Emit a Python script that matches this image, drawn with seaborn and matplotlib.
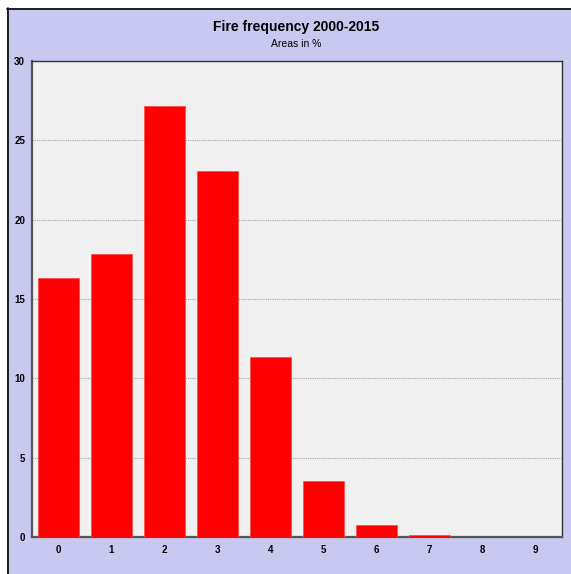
import pandas as pd
import matplotlib
matplotlib.use("Agg")
import matplotlib.pyplot as plt
import seaborn as sns
from matplotlib.patches import Rectangle
from matplotlib.lines import Line2D

# Fire frequency classes (number of fires 2000-2015) and share of area in %
classes = ["0", "1", "2", "3", "4", "5", "6", "7", "8", "9"]
area_pct = [16.3, 17.83, 27.15, 23.08, 11.32, 3.53, 0.74, 0.13, 0.0, 0.0]
yticks = [0, 5, 10, 15, 20, 25, 30]

df = pd.DataFrame({"fires": classes, "area": area_pct})

sns.set_style("white")
plt.rcParams["font.family"] = ["Liberation Sans", "DejaVu Sans"]

W, H = 571, 574
fig = plt.figure(figsize=(W / 100, H / 100), dpi=100, facecolor="white")

# lavender panel with black top/left edge
panel = "#c8c8f0"
fig.patches.append(Rectangle((7 / W, 0), 1 - 7 / W, 1 - 8 / H, transform=fig.transFigure,
                             facecolor=panel, edgecolor="none", zorder=-5))
fig.lines.append(Line2D([7 / W, 1], [1 - 8.5 / H, 1 - 8.5 / H], transform=fig.transFigure,
                        color="black", lw=1.2, zorder=-4))
fig.lines.append(Line2D([7.5 / W, 7.5 / W], [0, 1 - 8 / H], transform=fig.transFigure,
                        color="black", lw=1.2, zorder=-4))

left, right, top, bottom = 32, 562, 61, 537
ax = fig.add_axes([left / W, 1 - bottom / H, (right - left) / W, (bottom - top) / H])
ax.set_facecolor("#f0f0f0")

sns.barplot(data=df, x="fires", y="area", color="#ff0000", saturation=1, width=0.76,
            edgecolor="#ff5050", linewidth=0.6, ax=ax, zorder=3)

ax.set_ylim(0, 30)
ax.set_xlim(-0.5, 9.5)
ax.set_yticks(yticks)
ax.set_yticklabels([str(t) for t in yticks], fontsize=7, fontweight="bold")
ax.set_xticks(range(len(classes)))
ax.set_xticklabels(classes, fontsize=7, fontweight="bold")
ax.tick_params(axis="both", length=0, labelcolor="black")
ax.tick_params(axis="y", pad=5)
ax.tick_params(axis="x", pad=6)
ax.set_xlabel("")
ax.set_ylabel("")

for t in yticks[1:-1]:
    ax.axhline(t, color="#a8a8a8", lw=0.8, ls=(0, (1, 1)), zorder=1)

for side in ["top", "right"]:
    ax.spines[side].set_color("#333333")
    ax.spines[side].set_linewidth(1.0)
for side in ["left", "bottom"]:
    ax.spines[side].set_color("#555555")
    ax.spines[side].set_linewidth(1.6)

fig.text(296 / W, 1 - 27 / H, "Fire frequency 2000-2015", ha="center", va="center",
         fontsize=10, fontweight="bold", color="black")
fig.text(296 / W, 1 - 44 / H, "Areas in %", ha="center", va="center", fontsize=7.5,
         color="black")

fig.savefig("out.png", dpi=100, facecolor=fig.get_facecolor())
